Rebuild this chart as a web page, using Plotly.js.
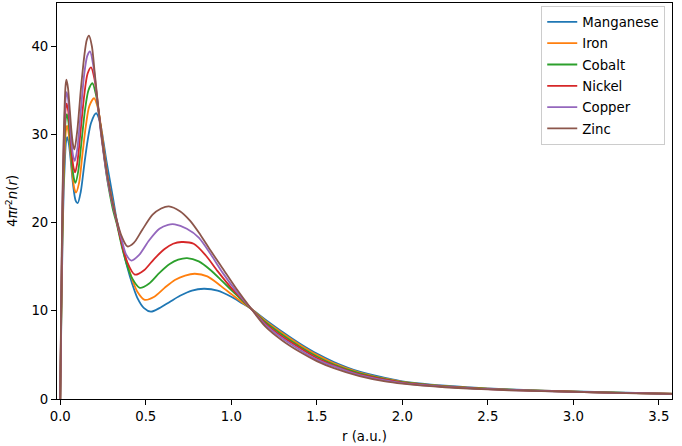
<!DOCTYPE html>
<html>
<head>
<meta charset="utf-8">
<script src="https://cdn.plot.ly/plotly-3.0.1.min.js"></script>
<style>
  html, body { margin: 0; padding: 0; background: #fff; }
  #chart { width: 682px; height: 446px; }
</style>
</head>
<body>
<div id="chart"></div>
<script>
// Radial density 4*pi*r^2*n(r) for the late 3d metals.

const elementNames = ["Manganese", "Iron", "Cobalt", "Nickel", "Copper", "Zinc"];
const lineColors = ["#1f77b4", "#ff7f0e", "#2ca02c", "#d62728", "#9467bd", "#8c564b"];

const mnR = [0, 0.005, 0.01, 0.015, 0.02, 0.027, 0.034, 0.041, 0.05, 0.06, 0.075, 0.09, 0.102, 0.12, 0.14, 0.16, 0.18, 0.21, 0.23, 0.25, 0.27, 0.29, 0.31, 0.33, 0.36, 0.39, 0.42, 0.45, 0.49, 0.53, 0.58, 0.64, 0.70, 0.77, 0.84, 0.92, 1.0, 1.06, 1.118, 1.2, 1.3, 1.4, 1.5, 1.6, 1.75, 1.9, 2.0, 2.25, 2.5, 2.75, 3.0, 3.25, 3.5, 3.58];
const mnN = [0, 7, 14, 19.5, 23.5, 27, 29.2, 29.7, 29.0, 27.3, 24.3, 22.5, 22.2, 23.5, 26.5, 29.3, 31.3, 32.4, 31.6, 29.5, 27.0, 24.8, 22.6, 20.3, 17.5, 15.1, 13.1, 11.5, 10.3, 9.9, 10.3, 11.0, 11.7, 12.3, 12.5, 12.3, 11.6, 10.9, 10.2, 9.0, 7.6, 6.3, 5.15, 4.2, 3.1, 2.4, 2.0, 1.5, 1.2, 1.0, 0.86, 0.74, 0.64, 0.61];

const feR = [0, 0.005, 0.01, 0.015, 0.02, 0.027, 0.033, 0.040, 0.05, 0.06, 0.072, 0.083, 0.092, 0.11, 0.13, 0.15, 0.17, 0.198, 0.22, 0.24, 0.26, 0.28, 0.30, 0.33, 0.36, 0.39, 0.42, 0.45, 0.494, 0.55, 0.61, 0.67, 0.73, 0.787, 0.86, 0.94, 1.0, 1.06, 1.118, 1.2, 1.3, 1.4, 1.5, 1.6, 1.75, 1.9, 2.0, 2.25, 2.5, 2.75, 3.0, 3.25, 3.5, 3.58];
const feN = [0, 7.6, 15, 20.8, 25, 28.6, 30.4, 31.0, 30.0, 28.0, 25.3, 23.8, 23.4, 24.5, 27.8, 31.0, 33.2, 34.1, 33.0, 30.6, 27.6, 24.8, 22.9, 20.2, 17.6, 15.5, 13.6, 12.2, 11.25, 11.6, 12.6, 13.5, 14.0, 14.2, 13.9, 12.8, 11.9, 11.0, 10.2, 8.85, 7.45, 6.15, 5.0, 4.05, 3.0, 2.3, 1.95, 1.45, 1.17, 0.98, 0.84, 0.72, 0.63, 0.6];

const coR = [0, 0.005, 0.01, 0.015, 0.02, 0.026, 0.032, 0.039, 0.048, 0.058, 0.07, 0.08, 0.089, 0.105, 0.125, 0.145, 0.165, 0.188, 0.21, 0.23, 0.25, 0.27, 0.29, 0.31, 0.33, 0.36, 0.39, 0.42, 0.465, 0.52, 0.58, 0.64, 0.69, 0.742, 0.81, 0.88, 0.95, 1.03, 1.118, 1.2, 1.3, 1.4, 1.5, 1.6, 1.75, 1.9, 2.0, 2.25, 2.5, 2.75, 3.0, 3.25, 3.5, 3.58];
const coN = [0, 8.2, 16, 22, 26.4, 29.8, 31.7, 32.3, 31.4, 29.2, 26.4, 25.0, 24.5, 25.8, 29.3, 32.8, 35.0, 35.8, 34.4, 31.8, 28.6, 25.5, 23.2, 21.3, 19.9, 17.3, 15.2, 13.7, 12.6, 13.1, 14.3, 15.3, 15.8, 15.98, 15.6, 14.6, 13.3, 11.8, 10.2, 8.7, 7.25, 5.95, 4.82, 3.9, 2.9, 2.25, 1.9, 1.42, 1.15, 0.97, 0.83, 0.71, 0.62, 0.59];

const niR = [0, 0.005, 0.01, 0.015, 0.02, 0.026, 0.032, 0.038, 0.047, 0.057, 0.068, 0.078, 0.087, 0.10, 0.12, 0.14, 0.16, 0.18, 0.20, 0.22, 0.24, 0.26, 0.28, 0.30, 0.33, 0.36, 0.39, 0.436, 0.49, 0.55, 0.61, 0.66, 0.709, 0.78, 0.85, 0.92, 1.0, 1.06, 1.118, 1.2, 1.3, 1.4, 1.5, 1.6, 1.75, 1.9, 2.0, 2.25, 2.5, 2.75, 3.0, 3.25, 3.5, 3.58];
const niN = [0, 8.8, 17, 23.3, 27.6, 31.0, 33.0, 33.5, 32.6, 30.4, 27.7, 26.2, 25.7, 26.8, 30.6, 34.4, 36.9, 37.6, 36.3, 33.4, 30.2, 27.1, 24.6, 22.6, 20.1, 17.6, 15.6, 14.1, 14.6, 15.9, 17.0, 17.6, 17.8, 17.6, 16.3, 14.5, 12.6, 11.4, 10.2, 8.55, 7.05, 5.8, 4.65, 3.8, 2.8, 2.2, 1.85, 1.4, 1.13, 0.95, 0.82, 0.7, 0.62, 0.59];

const cuR = [0, 0.005, 0.01, 0.015, 0.02, 0.025, 0.031, 0.037, 0.046, 0.056, 0.066, 0.076, 0.085, 0.10, 0.12, 0.14, 0.158, 0.174, 0.195, 0.215, 0.235, 0.255, 0.275, 0.30, 0.33, 0.36, 0.385, 0.416, 0.46, 0.52, 0.58, 0.63, 0.67, 0.74, 0.81, 0.88, 0.95, 1.03, 1.118, 1.2, 1.3, 1.4, 1.5, 1.6, 1.75, 1.9, 2.0, 2.25, 2.5, 2.75, 3.0, 3.25, 3.5, 3.58];
const cuN = [0, 9.4, 17.8, 24.2, 28.6, 31.8, 34.0, 34.8, 34.0, 31.6, 29.0, 27.5, 27.0, 28.4, 32.6, 36.8, 38.9, 39.4, 37.6, 34.2, 30.6, 27.6, 25.0, 22.6, 20.2, 18.0, 16.4, 15.7, 16.3, 18.0, 19.3, 19.75, 19.8, 19.3, 18.3, 16.4, 14.3, 12.2, 10.2, 8.4, 6.85, 5.6, 4.47, 3.7, 2.7, 2.1, 1.8, 1.37, 1.11, 0.94, 0.81, 0.7, 0.61, 0.58];

const znR = [0, 0.005, 0.01, 0.015, 0.02, 0.026, 0.031, 0.036, 0.045, 0.055, 0.065, 0.075, 0.083, 0.10, 0.12, 0.14, 0.155, 0.168, 0.185, 0.20, 0.22, 0.24, 0.26, 0.28, 0.30, 0.33, 0.36, 0.393, 0.43, 0.48, 0.54, 0.59, 0.635, 0.70, 0.76, 0.82, 0.88, 0.95, 1.03, 1.118, 1.2, 1.3, 1.4, 1.5, 1.6, 1.75, 1.9, 2.0, 2.25, 2.5, 2.75, 3.0, 3.25, 3.5, 3.58];
const znN = [0, 10, 18.5, 25, 29.5, 33.5, 35.5, 36.2, 35.3, 33.0, 30.5, 28.8, 28.3, 30.5, 35.0, 38.8, 40.7, 41.2, 40.0, 37.3, 33.5, 30.0, 27.2, 24.8, 22.8, 20.3, 18.4, 17.3, 17.7, 19.2, 20.9, 21.6, 21.85, 21.3, 20.2, 18.6, 16.8, 14.8, 12.5, 10.2, 8.2, 6.6, 5.35, 4.3, 3.5, 2.6, 2.0, 1.75, 1.33, 1.08, 0.92, 0.8, 0.69, 0.6, 0.57];

const radii = [mnR, feR, coR, niR, cuR, znR];
const densities = [mnN, feN, coN, niN, cuN, znN];

const FONT = { family: "DejaVu Sans, sans-serif", size: 13.3, color: "#000" };

// one legend group per trace so tracegroupgap spaces the entries like matplotlib
const traces = elementNames.map((name, i) => ({
  x: radii[i],
  y: densities[i],
  name,
  legendgroup: name,
  type: "scatter",
  mode: "lines",
  line: { color: lineColors[i], width: 1.8, shape: "spline", smoothing: 0.8 },
}));

const axisCommon = {
  showline: true, mirror: true, linecolor: "#000", linewidth: 1,
  ticks: "outside", ticklen: 5, tickwidth: 1, tickcolor: "#000",
  showgrid: false, zeroline: false, tickfont: FONT,
};

const layout = {
  width: 682, height: 446,
  font: FONT,
  paper_bgcolor: "#fff", plot_bgcolor: "#fff",
  margin: { l: 57, r: 10, t: 3, b: 47 },
  showlegend: true,
  legend: {
    x: 0.989, y: 0.993, xanchor: "right", yanchor: "top",
    bgcolor: "rgba(255,255,255,0.8)", bordercolor: "#cccccc", borderwidth: 1,
    font: FONT, tracegroupgap: 1, itemwidth: 30,
  },
  xaxis: {
    ...axisCommon,
    range: [-0.019, 3.577], dtick: 0.5, tick0: 0, tickformat: ".1f",
    title: { text: "r (a.u.)", font: FONT, standoff: 8 },
  },
  yaxis: {
    ...axisCommon,
    range: [0, 44.9], dtick: 10, tick0: 0,
    title: { text: "4<i>πr</i><sup>2</sup><i>n</i>(<i>r</i>)", font: FONT, standoff: 10 },
  },
};

Plotly.newPlot("chart", traces, layout, { displayModeBar: false, responsive: false });
</script>
</body>
</html>
